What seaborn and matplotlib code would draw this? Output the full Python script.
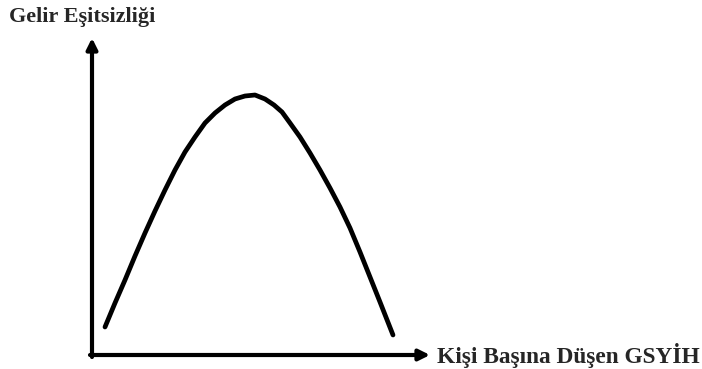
import matplotlib
matplotlib.use('Agg')
import matplotlib.pyplot as plt
import seaborn as sns
import pandas as pd

# curve (pixel-like units, y grows downward)
gdp = [105, 115, 125, 135, 145, 155, 165, 175, 185, 195, 205, 215, 225, 235, 245, 255,
       265, 274, 282, 290, 300, 310, 320, 330, 340, 350, 360, 370, 380, 393]
inequality = [327, 303, 280, 256, 233, 211, 190, 170, 152, 137, 123, 113, 105, 99, 96, 95,
              99, 105, 112, 123, 137, 153, 170, 188, 207, 228, 252, 277, 302, 335]
y_label = 'Gelir Eşitsizliği'
x_label = 'Kişi Başına Düşen GSYİH'

df = pd.DataFrame({'gdp': gdp, 'inequality': inequality})

sns.set_theme(style='white')
plt.rcParams['font.family'] = ['Liberation Serif', 'DejaVu Serif']

fig = plt.figure(figsize=(7.02, 3.69), dpi=100)
ax = fig.add_axes([0, 0, 1, 1])
ax.set_xlim(0, 702)
ax.set_ylim(369, 0)
ax.axis('off')

sns.lineplot(data=df, x='gdp', y='inequality', sort=False, color='black', linewidth=3.4,
             solid_joinstyle='round', solid_capstyle='round', ax=ax)

# axes drawn as arrows
arrow = dict(arrowstyle='-|>', color='black', lw=3, mutation_scale=16, shrinkA=0, shrinkB=0)
ax.annotate('', xy=(92, 38), xytext=(92, 357), arrowprops=arrow)
ax.annotate('', xy=(430, 355), xytext=(90, 355), arrowprops=arrow)

ax.text(9, 17, y_label, fontsize=16, fontweight='bold', va='center', ha='left')
ax.text(437, 356, x_label, fontsize=16.8, fontweight='bold', va='center', ha='left')

fig.savefig('out.png', dpi=100)
